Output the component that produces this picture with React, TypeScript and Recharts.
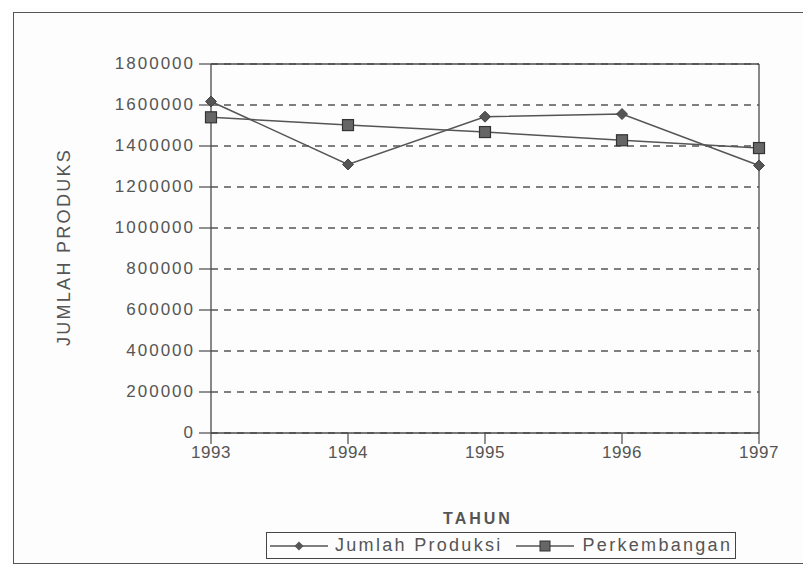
import React from 'react';
import { LineChart, Line, XAxis, YAxis, CartesianGrid, ReferenceLine } from 'recharts';

const years = ['1993', '1994', '1995', '1996', '1997'];
const jumlahProduksi = [1617000, 1310000, 1543000, 1556000, 1305000];
const perkembangan = [1540000, 1502000, 1468000, 1428000, 1390000];
const yTicks = [0, 200000, 400000, 600000, 800000, 1000000, 1200000, 1400000, 1600000, 1800000];

const data = years.map((y, i) => ({ year: y, jumlah: jumlahProduksi[i], perk: perkembangan[i] }));

const INK = '#4a4a4a';
const FONT = '"Liberation Sans", Arial, sans-serif';

const Diamond = (props: any) => {
  const { cx, cy } = props;
  if (cx == null || cy == null) return null;
  const r = 5.5;
  return <path d={`M${cx},${cy - r}L${cx + r},${cy}L${cx},${cy + r}L${cx - r},${cy}Z`} fill="#555" stroke="#444" strokeWidth={1} />;
};

const Square = (props: any) => {
  const { cx, cy } = props;
  if (cx == null || cy == null) return null;
  const r = 5.5;
  return <rect x={cx - r} y={cy - r} width={2 * r} height={2 * r} fill="#666" stroke="#333" strokeWidth={1.2} />;
};

const YTick = (props: any) => {
  const { x, y, payload } = props;
  return (
    <g>
      <line x1={x + 6} x2={x + 18} y1={y} y2={y} stroke={INK} strokeWidth={1.2} />
      <text x={x + 2} y={y} dy={5} textAnchor="end" fontSize={17} fill="#555" fontFamily={FONT} letterSpacing={2}>
        {payload.value}
      </text>
    </g>
  );
};

const XTick = (props: any) => {
  const { x, y, payload } = props;
  return (
    <g>
      <line x1={x} x2={x} y1={y - 12} y2={y - 1} stroke={INK} strokeWidth={1.2} />
      <text x={x} y={y} dy={13} textAnchor="middle" fontSize={17} fill="#555" fontFamily={FONT} letterSpacing={0.5}>
        {payload.value}
      </text>
    </g>
  );
};

const LegendIcon = ({ kind }: { kind: 'diamond' | 'square' }) => (
  <svg width={58} height={14} style={{ display: 'block', flex: 'none' }}>
    <line x1={0} x2={58} y1={7} y2={7} stroke="#555" strokeWidth={1.5} />
    {kind === 'diamond' ? (
      <path d="M29,2.5L33.5,7L29,11.5L24.5,7Z" fill="#555" />
    ) : (
      <rect x={24} y={2} width={10} height={10} fill="#666" stroke="#333" />
    )}
  </svg>
);

export default function App() {
  return (
    <div style={{ position: 'relative', width: 811, height: 573, margin: -8, overflow: 'hidden', background: '#fdfdfd', fontFamily: FONT }}>
      <div style={{ position: 'absolute', left: 13, top: 12, width: 830, height: 552, border: '1.5px solid #555', boxSizing: 'border-box' }} />
      <div style={{ position: 'absolute', left: 0, top: 0 }}>
        <LineChart width={811} height={573} data={data} margin={{ top: 64, right: 52, left: 0, bottom: 0 }}>
          <CartesianGrid vertical={false} stroke="#555" strokeDasharray="7 6" strokeWidth={1.3} />
          <ReferenceLine y={1800000} stroke={INK} strokeWidth={1.3} />
          <ReferenceLine x="1997" stroke={INK} strokeWidth={1.3} />
          <XAxis
            dataKey="year"
            height={140}
            axisLine={{ stroke: INK, strokeWidth: 1.3 }}
            tickLine={false}
            tick={<XTick />}
            tickMargin={6}
            interval={0}
          />
          <YAxis
            width={211}
            domain={[0, 1800000]}
            ticks={yTicks}
            interval={0}
            axisLine={{ stroke: INK, strokeWidth: 1.3 }}
            tickLine={false}
            tick={<YTick />}
            tickMargin={12}
          />
          <Line type="linear" dataKey="jumlah" stroke="#555" strokeWidth={1.5} dot={<Diamond />} isAnimationActive={false} />
          <Line type="linear" dataKey="perk" stroke="#555" strokeWidth={1.5} dot={<Square />} isAnimationActive={false} />
        </LineChart>
      </div>
      <div style={{ position: 'absolute', left: 64, top: 247, transform: 'translate(-50%, -50%) rotate(-90deg)', whiteSpace: 'nowrap', fontSize: 18, color: '#555', letterSpacing: 2.3 }}>
        JUMLAH PRODUKS
      </div>
      <div style={{ position: 'absolute', left: 478, top: 519, transform: 'translate(-50%, -50%)', fontSize: 16, fontWeight: 'bold', color: '#555', letterSpacing: 3 }}>
        TAHUN
      </div>
      <div style={{ position: 'absolute', left: 266, top: 532, width: 470, height: 27, border: '1.5px solid #444', boxSizing: 'border-box', display: 'flex', alignItems: 'center', justifyContent: 'flex-start', paddingLeft: 3, fontSize: 18, color: '#555', whiteSpace: 'nowrap' }}>
        <LegendIcon kind="diamond" />
        <span style={{ marginLeft: 7, marginRight: 13, letterSpacing: 2.3 }}>Jumlah Produksi</span>
        <LegendIcon kind="square" />
        <span style={{ marginLeft: 9, letterSpacing: 2.3 }}>Perkembangan</span>
      </div>
    </div>
  );
}
